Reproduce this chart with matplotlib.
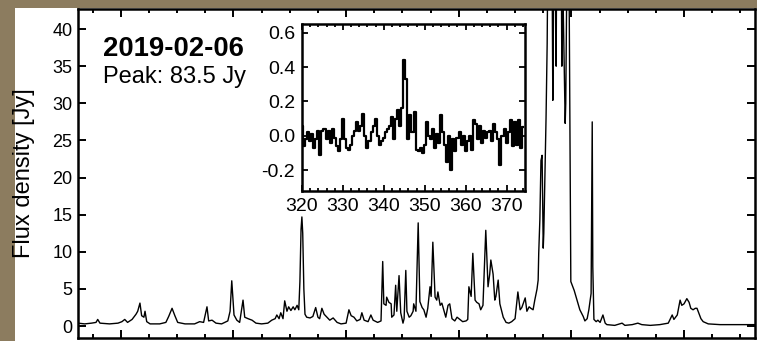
import matplotlib
matplotlib.use('Agg')
import matplotlib.pyplot as plt
from matplotlib.patches import Rectangle
from matplotlib.ticker import MultipleLocator
import numpy as np

plt.rcParams['font.family'] = ['Liberation Sans', 'DejaVu Sans']
plt.rcParams['axes.unicode_minus'] = False

obs_date = '2019-02-06'
peak_text = 'Peak: 83.5 Jy'

# main spectrum (velocity, flux density)
vel = [-7.6, -6.4, -5.2, -4.4, -4.1, -3.7, -2.0, -0.5, 0.2, 0.7, 1.2, 2.0, 2.7, 3.0, 3.4,
       3.7, 4.1, 4.3, 4.6, 5.2, 6.9, 8.0, 8.5, 9.1, 9.6, 10.1, 11.4, 13.1, 14.0, 14.7,
       15.3, 15.6, 16.2, 16.9, 17.9, 19.0, 19.4, 19.7, 20.1, 20.6, 21.1, 21.7, 22.0, 22.6,
       23.3, 24.0, 25.0, 26.1, 26.8, 27.4, 27.7, 28.1, 28.4, 28.8, 29.1, 29.5, 29.8, 30.2,
       30.6, 30.9, 31.3, 31.6, 31.8, 32.0, 32.15, 32.3, 32.5, 32.7, 33.0, 33.6, 34.1, 34.6,
       35.0, 35.3, 35.7, 36.1, 36.6, 37.1, 37.7, 38.4, 39.1, 40.0, 40.5, 40.9, 41.4, 41.9,
       42.5, 42.8, 43.2, 43.9, 44.4, 44.8, 45.6, 46.2, 46.5, 46.7, 47.1, 47.2, 47.6, 48.0,
       48.1, 48.5, 48.8, 49.0, 49.4, 49.7, 50.1, 50.3, 50.6, 50.8, 51.2, 51.5, 51.9, 52.0,
       52.4, 52.8, 53.1, 53.5, 53.8, 54.2, 54.5, 54.9, 55.1, 55.4, 55.8, 56.1, 56.3, 56.7,
       57.0, 57.4, 57.7, 58.1, 58.4, 58.8, 59.3, 59.7, 60.2, 60.7, 61.3, 61.6, 61.8, 62.2,
       62.5, 62.9, 63.2, 63.6, 63.9, 64.3, 64.8, 65.2, 65.5, 65.7, 66.1, 66.4, 66.6, 67.0,
       67.3, 67.9, 68.4, 68.9, 69.4, 70.0, 70.5, 70.9, 71.2, 71.8, 72.1, 72.5, 72.8, 73.2,
       73.5, 73.9, 74.1, 74.2, 74.4, 74.6, 74.8, 75.0, 75.1, 75.3, 75.5, 75.7, 75.8, 76.2,
       76.6, 76.7, 76.9, 77.1, 77.3, 77.4, 77.8, 78.2, 78.3, 78.5, 78.9, 79.0, 79.2, 79.4,
       79.6, 79.8, 79.9, 80.1, 80.5, 81.0, 81.5, 82.1, 82.4, 82.8, 83.1, 83.5, 83.7, 83.8,
       84.0, 84.4, 84.7, 85.1, 85.6, 86.0, 86.3, 87.7, 89.0, 89.5, 90.8, 91.8, 92.5, 94.0,
       95.7, 97.2, 97.9, 98.2, 98.8, 99.3, 99.6, 100.0, 100.5, 100.9, 101.2, 101.6, 102.0,
       102.3, 102.7, 103.0, 103.4, 104.3, 106.4, 109.1, 112.6]
flux = [0.4, 0.3, 0.4, 0.5, 0.9, 0.4, 0.3, 0.4, 0.6, 0.9, 0.5, 0.9, 1.6, 2.0, 3.1,
        1.4, 1.2, 2.0, 0.6, 0.3, 0.3, 0.5, 1.3, 2.4, 1.4, 0.5, 0.3, 0.3, 0.6, 0.5,
        2.6, 0.7, 0.8, 0.4, 0.3, 0.7, 2.0, 6.1, 1.5, 0.8, 0.5, 3.5, 1.2, 1.0,
        0.8, 0.4, 0.3, 0.4, 0.8, 1.0, 1.5, 1.0, 1.8, 1.0, 3.4, 2.0, 2.6, 2.1,
        2.6, 2.2, 2.8, 2.2, 6.0, 13.0, 14.7, 12.5, 5.0, 1.6, 1.2, 1.1, 1.3, 2.5,
        1.2, 1.0, 2.4, 1.6, 1.2, 0.8, 1.1, 0.5, 0.3, 0.4, 2.2, 1.4, 1.2, 0.7,
        0.9, 1.8, 0.8, 0.6, 1.5, 0.8, 0.5, 0.7, 8.7, 3.0, 2.8, 3.9, 3.2, 3.0,
        1.2, 1.5, 5.5, 2.0, 6.8, 1.8, 0.4, 1.0, 7.5, 2.0, 1.2, 1.4, 2.0, 3.0,
        2.0, 13.9, 3.3, 2.5, 2.2, 1.2, 2.4, 5.3, 4.0, 11.3, 3.9, 3.5, 4.6, 2.8,
        3.1, 2.0, 1.2, 2.8, 3.0, 1.0, 0.7, 1.2, 0.9, 0.6, 0.7, 0.9, 5.3, 4.0,
        9.8, 3.5, 3.2, 3.0, 2.2, 2.8, 12.9, 5.3, 7.0, 8.9, 7.0, 3.5, 4.0, 6.2,
        3.0, 1.2, 0.5, 0.4, 0.6, 1.0, 4.6, 2.2, 2.5, 3.8, 2.0, 2.6, 2.4, 2.2,
        3.5, 5.0, 6.2, 9.8, 14.3, 22.3, 23.0, 10.5, 12.5, 20.0, 28.0, 38.0, 48.0, 60.0,
        45.0, 30.4, 50.0, 60.0, 35.0, 55.0, 83.5, 50.0, 35.0, 45.0, 27.3, 30.0, 48.0, 60.0,
        45.0, 20.0, 6.0, 5.6, 4.8, 3.5, 2.2, 1.3, 0.7, 1.0, 2.2, 4.4, 27.5, 8.0,
        0.9, 0.6, 0.8, 0.5, 1.5, 0.4, 0.2, 0.1, 0.4, 0.1, 0.2, 0.4, 0.2, 0.1,
        0.2, 0.4, 1.5, 0.9, 1.5, 3.5, 2.8, 3.0, 3.7, 3.2, 2.4, 2.2, 2.4,
        2.4, 1.6, 1.0, 0.6, 0.3, 0.2, 0.2, 0.2]

# inset spectrum, channels of 0.5 starting at 320
inset_start = 320.0
inset_width = 0.5
inset_flux = [0.06, -0.06, -0.02, 0.02, -0.03, 0.01, -0.07, -0.02, 0.03, -0.11,
              0.03, 0.04, -0.02, 0.03, -0.04, 0.04, -0.01, -0.06, -0.09, -0.02,
              0.10, -0.02, -0.07, -0.08, -0.05, 0.00, 0.03, 0.08, 0.03, 0.06,
              0.13, 0.00, -0.07, -0.03, 0.02, 0.06, 0.10, 0.00, -0.05, -0.03,
              -0.01, 0.02, 0.04, 0.06, 0.11, -0.02, 0.10, 0.15, 0.06, 0.16,
              0.44, 0.33, -0.02, 0.12, 0.02, 0.14, -0.08, -0.09, -0.07, -0.10,
              -0.05, 0.08, 0.00, -0.02, 0.04, -0.07, 0.01, -0.04, 0.12, 0.02,
              -0.05, -0.15, 0.00, -0.20, -0.02, -0.09, -0.01, 0.02, -0.05, 0.00,
              -0.09, -0.03, 0.00, -0.08, 0.09, 0.07, -0.02, 0.06, -0.04, 0.03,
              -0.01, 0.02, 0.03, -0.03, 0.07, 0.02, -0.02, -0.17, 0.00, 0.04,
              -0.04, 0.02, 0.09, -0.06, 0.08, -0.05, 0.09, -0.07, 0.05]
inset_vel = inset_start + inset_width * np.arange(len(inset_flux))

fig = plt.figure(figsize=(7.57, 3.41), dpi=100)
fig.patch.set_facecolor('#8c7c5f')
fig.add_artist(Rectangle((15 / 757, 0), 1, 1 - 8 / 341, transform=fig.transFigure,
                         facecolor='white', edgecolor='none', zorder=0))

ax = fig.add_axes([78 / 757, 3 / 341, 677 / 757, 329 / 341])
ax.plot(vel, flux, color='black', lw=1.0)
ax.set_xlim(-7.6, 112.6)
ax.set_ylim(-1.6, 42.7)
ax.xaxis.set_major_locator(MultipleLocator(20))
ax.xaxis.set_minor_locator(MultipleLocator(5))
ax.yaxis.set_major_locator(MultipleLocator(5))
ax.tick_params(which='both', direction='in', top=True, right=True, width=1.4,
               labelbottom=False, labelsize=13, pad=4)
ax.tick_params(which='major', length=6)
ax.tick_params(which='minor', length=3)
ax.tick_params(axis='y', which='minor', left=False, right=False)
for s in ax.spines.values():
    s.set_linewidth(1.8)
ax.set_ylabel('Flux density [Jy]', fontsize=17)
ax.yaxis.set_label_coords(-0.063, 0.5)

ax.text(0.037, 0.857, obs_date, transform=ax.transAxes, fontsize=19.8,
        fontweight='bold', va='baseline', ha='left')
ax.text(0.037, 0.775, peak_text, transform=ax.transAxes, fontsize=17,
        va='baseline', ha='left')

axin = fig.add_axes([302 / 757, 150 / 341, 223 / 757, 167 / 341])
axin.step(inset_vel, inset_flux, where='mid', color='black', lw=1.6)
axin.set_xlim(320, 374.5)
axin.set_ylim(-0.32, 0.65)
axin.xaxis.set_major_locator(MultipleLocator(10))
axin.xaxis.set_minor_locator(MultipleLocator(2))
axin.yaxis.set_major_locator(MultipleLocator(0.2))
axin.yaxis.set_major_formatter(plt.FormatStrFormatter('%.1f'))
axin.tick_params(which='both', direction='in', top=True, right=True, width=1.3,
                 labelsize=14, pad=5)
axin.tick_params(which='major', length=4.5)
axin.tick_params(which='minor', length=2)
for s in axin.spines.values():
    s.set_linewidth(1.8)

fig.savefig('out.png', dpi=100, facecolor=fig.get_facecolor())
